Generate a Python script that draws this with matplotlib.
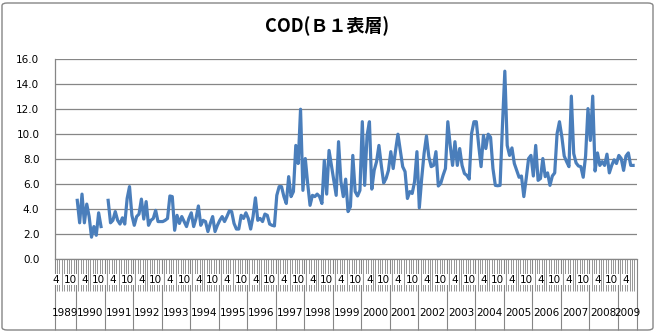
import matplotlib
matplotlib.use("Agg")
import matplotlib.pyplot as plt
import numpy as np
from matplotlib.patches import FancyBboxPatch

# monthly COD values, 1989-04 .. 2009-08 (None = no measurement)
cod = [
    None, None, None, None, None, None, None, None, None,              # 1989 4-12
    4.7, 2.9, 5.2, 2.9, 4.4, 3.4, 1.75, 2.6, 1.9, 3.7, 2.6, None,       # 1990
    None, 4.7, 2.9, 3.1, 3.8, 3.1, 2.8, 3.3, 2.8, 4.85, 5.8, 3.5,       # 1991
    2.7, 3.4, 3.6, 4.8, 3.2, 4.6, 2.7, 3.1, 3.25, 3.9, 3.0, 3.0,        # 1992
    3.0, 3.1, 3.25, 5.05, 5.0, 2.3, 3.5, 2.85, 3.4, 3.0, 2.6, 3.25,     # 1993
    3.7, 2.6, 3.25, 4.25, 2.7, 3.1, 3.0, 2.2, 2.85, 3.4, 2.2, 2.7,      # 1994
    3.1, 3.4, 3.0, 3.4, 3.85, 3.8, 2.85, 2.4, 2.4, 3.5, 3.25, 3.7,      # 1995
    3.25, 2.4, 3.4, 4.9, 3.1, 3.25, 3.0, 3.6, 3.5, 2.8, 2.7, 2.65,      # 1996
    5.1, 5.8, 5.8, 5.0, 4.45, 6.6, 5.0, 5.4, 9.1, 7.65, 12.0, 5.5,      # 1997
    8.05, 6.05, 4.3, 5.1, 5.0, 5.2, 5.0, 4.45, 7.9, 5.2, 8.7, 7.5,      # 1998
    6.3, 5.1, 9.4, 6.2, 5.0, 6.4, 3.8, 4.2, 8.3, 5.4, 5.05, 5.5,        # 1999
    11.0, 5.9, 9.9, 11.0, 5.6, 7.1, 7.8, 9.1, 7.5, 6.1, 6.45, 7.1,      # 2000
    8.6, 7.25, 8.7, 10.0, 8.7, 7.4, 7.0, 4.85, 5.4, 5.25, 6.2, 8.6,     # 2001
    4.1, 6.45, 8.45, 9.85, 8.2, 7.4, 7.5, 8.6, 5.85, 6.05, 6.7, 7.25,   # 2002
    11.0, 9.1, 7.5, 9.4, 7.5, 8.85, 7.5, 6.85, 6.7, 6.4, 10.05, 11.0,   # 2003
    11.0, 9.1, 7.4, 9.9, 8.85, 10.0, 9.75, 7.25, 5.9, 5.87, 5.9, 10.7,  # 2004
    15.05, 9.1, 8.3, 8.9, 7.65, 7.1, 6.55, 6.65, 5.0, 6.45, 8.05, 8.3,  # 2005
    6.65, 9.1, 6.3, 6.45, 8.05, 6.6, 6.9, 5.9, 6.65, 6.9, 10.05, 11.0,  # 2006
    9.8, 8.25, 7.8, 7.4, 13.05, 8.45, 7.7, 7.45, 7.4, 6.55, 8.25, 12.05,  # 2007
    9.5, 13.05, 7.05, 8.5, 7.5, 7.8, 7.5, 8.4, 6.9, 7.5, 7.95, 7.65,    # 2008
    8.3, 8.05, 7.1, 8.25, 8.5, 7.5, 7.5, None,                          # 2009 1-8
]
first_year = 1989
first_month = 4
years = list(range(1989, 2010))
month_labels = {4: "4", 10: "10"}
y_ticks = [0, 2, 4, 6, 8, 10, 12, 14, 16]

grey = "#868686"
line_color = "#4A7EBB"

vals = np.array([np.nan if v is None else v for v in cod], dtype=float)
n = len(vals)
x = np.arange(n)
months = [(first_month - 1 + i) % 12 + 1 for i in range(n)]
yrs = [first_year + (first_month - 1 + i) // 12 for i in range(n)]

fig = plt.figure(figsize=(6.55, 3.33), dpi=100)
ax = fig.add_axes([0.0835, 0.2222, 0.8885, 0.5997])

ax.plot(x, vals, color=line_color, lw=2.3, solid_joinstyle="round")

ax.set_xlim(-0.5, n - 0.5)
ax.set_ylim(0, 16)
ax.set_yticks(y_ticks)
ax.set_yticklabels([f"{v:.1f}" for v in y_ticks], fontsize=7.5)
ax.tick_params(axis="y", length=0, pad=11)
ax.yaxis.grid(True, color=grey, lw=0.9)
ax.set_axisbelow(True)

for s in ["top", "right"]:
    ax.spines[s].set_visible(False)
for s in ["left", "bottom"]:
    ax.spines[s].set_color(grey)
    ax.spines[s].set_linewidth(0.9)

# category tick marks and year boundaries
year_starts = [i for i in range(n) if months[i] == 1]
year_bounds = [-0.5] + [i - 0.5 for i in year_starts] + [n - 0.5]
ax.set_xticks(year_bounds)
ax.set_xticklabels([])
ax.set_xticks(np.arange(n + 1) - 0.5, minor=True)
ax.tick_params(axis="x", which="major", length=51, width=0.8, color=grey)
ax.tick_params(axis="x", which="minor", length=23, width=0.6, color=grey)

for i in range(n):
    if months[i] in month_labels:
        ax.annotate(month_labels[months[i]], (i, 0), xycoords=("data", "axes fraction"),
                    xytext=(0, -15), textcoords="offset points", ha="center", va="center",
                    fontsize=7.5, annotation_clip=False,
                    bbox=dict(boxstyle="square,pad=0.05", fc="white", ec="none"))

for k, yr in enumerate(years):
    left = year_bounds[k]
    right = year_bounds[k + 1]
    ax.annotate(str(yr), ((left + right) / 2, 0), xycoords=("data", "axes fraction"),
                xytext=(0, -39), textcoords="offset points", ha="center", va="center",
                fontsize=7.5, annotation_clip=False)

fig.text(0.5, 0.92, "COD(Ｂ１表層)", ha="center", va="center", fontsize=13,
         fontweight="bold", family=["Noto Sans CJK JP", "DejaVu Sans"])

border = FancyBboxPatch((2 / 655, 3 / 333), 651 / 655, 327 / 333,
                        boxstyle="round,pad=0,rounding_size=0.008",
                        transform=fig.transFigure, fill=False, ec=grey, lw=1)
fig.patches.append(border)

fig.savefig("out.png", dpi=100)
